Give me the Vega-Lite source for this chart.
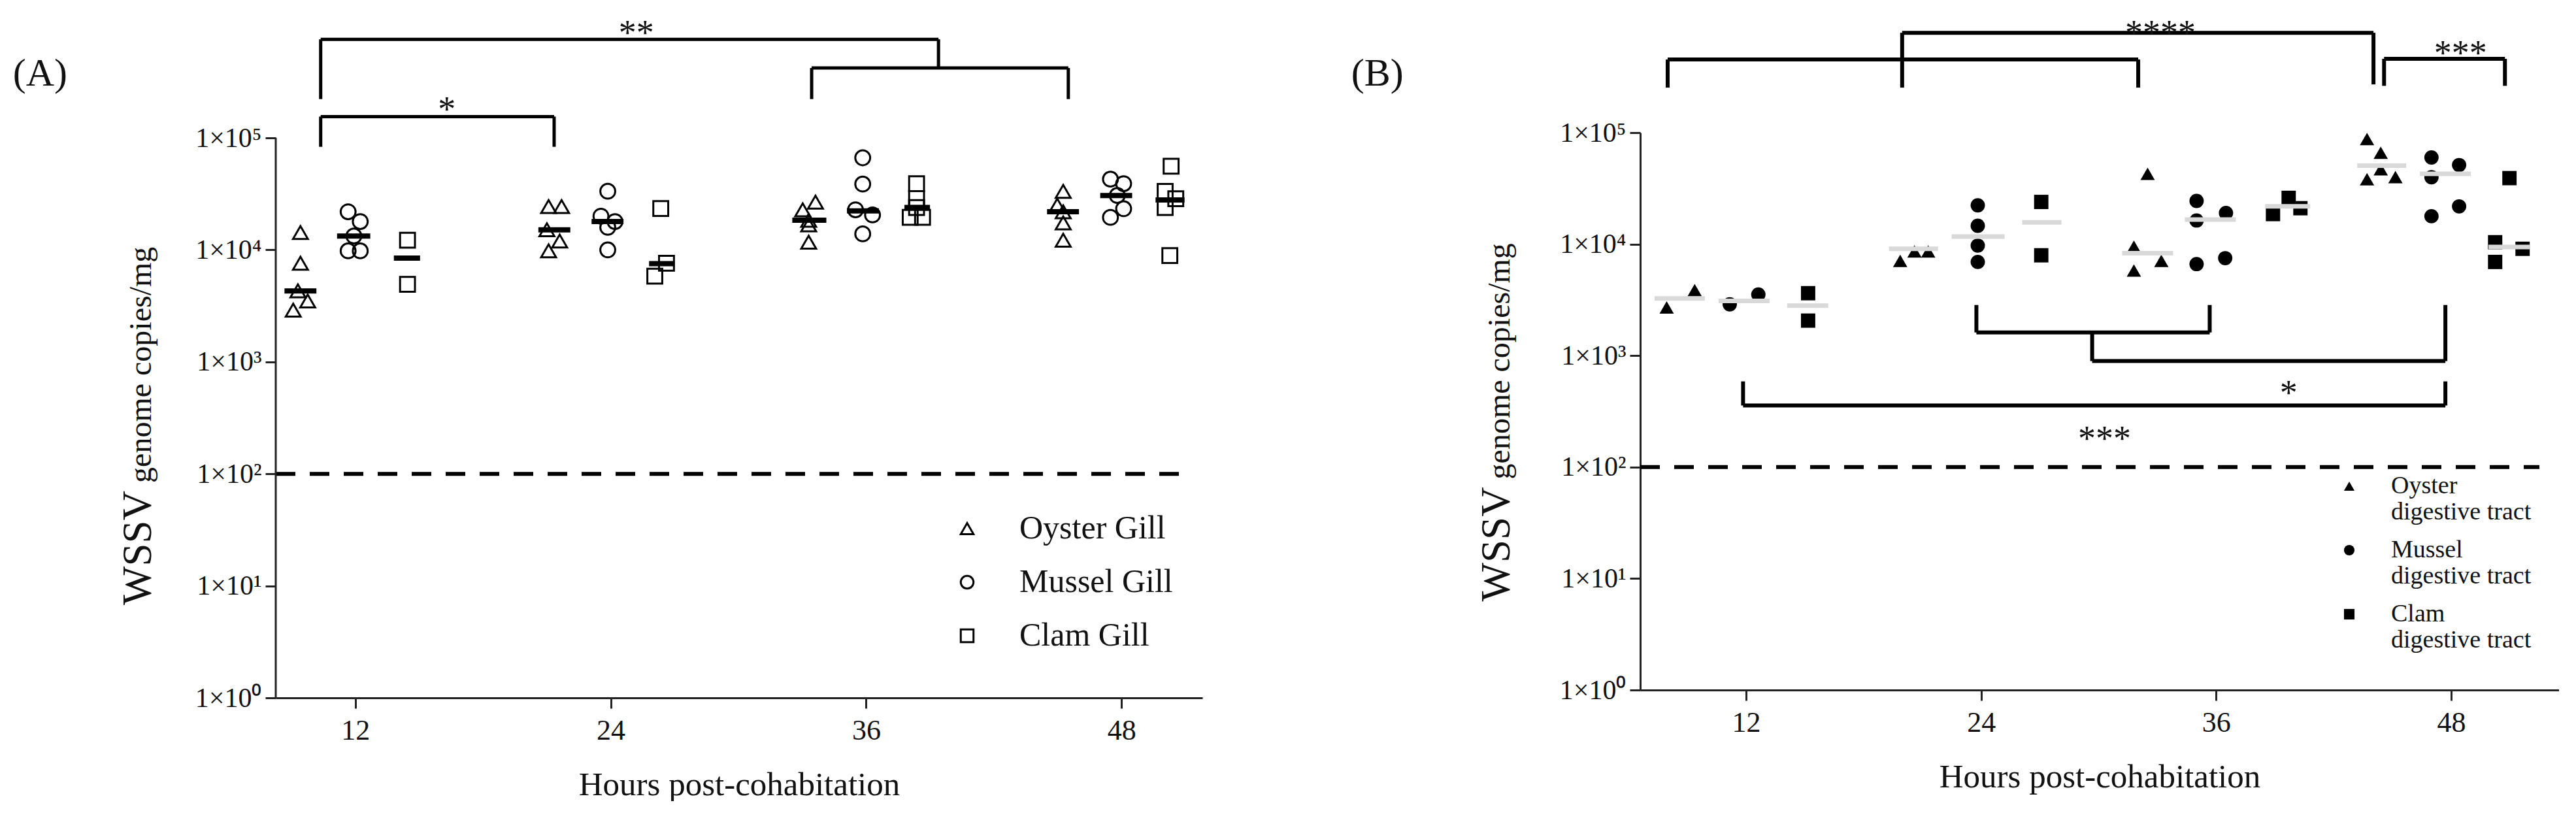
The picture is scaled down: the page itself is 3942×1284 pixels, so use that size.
{
  "$schema": "https://vega.github.io/schema/vega-lite/v6.json",
  "background": "white",
  "padding": {"left": 19, "top": 25, "right": 0, "bottom": 0},
  "spacing": 227,
  "config": {
    "view": {"stroke": null},
    "font": "Liberation Serif",
    "axis": {"labelFont": "Liberation Serif", "titleFont": "Liberation Serif", "labelColor": "#111", "titleColor": "#111", "domainColor": "#222", "tickColor": "#222", "domainWidth": 3, "tickWidth": 3, "tickSize": 16, "grid": false, "titleFontWeight": "normal"},
    "legend": {"labelFont": "Liberation Serif", "labelColor": "#111", "labelLimit": 1000, "padding": 0, "title": null}
  },
  "resolve": {"scale": {"shape": "independent", "x": "independent", "y": "independent"}, "legend": {"shape": "independent"}},
  "datasets": {
    "refA": [{"x1": 8.26, "x2": 50.8, "v": 100}],
    "refB": [{"x1": 6.6, "x2": 52.5, "v": 100}],
    "axA": [{"x": 8.26, "y": 1, "y2": 100000}],
    "ptsA": [
      {"tissue": "Oyster Gill", "h": 9.42, "v": 14300}, {"tissue": "Oyster Gill", "h": 9.42, "v": 7600}, {"tissue": "Oyster Gill", "h": 9.3, "v": 4300}, {"tissue": "Oyster Gill", "h": 9.08, "v": 2900}, {"tissue": "Oyster Gill", "h": 9.76, "v": 3500},
      {"tissue": "Mussel Gill", "h": 11.66, "v": 21900}, {"tissue": "Mussel Gill", "h": 12.23, "v": 17900}, {"tissue": "Mussel Gill", "h": 11.93, "v": 13300}, {"tissue": "Mussel Gill", "h": 11.66, "v": 9800}, {"tissue": "Mussel Gill", "h": 12.23, "v": 9800},
      {"tissue": "Clam Gill", "h": 14.45, "v": 12200}, {"tissue": "Clam Gill", "h": 14.45, "v": 4930},
      {"tissue": "Oyster Gill", "h": 21.08, "v": 24400}, {"tissue": "Oyster Gill", "h": 21.69, "v": 24400}, {"tissue": "Oyster Gill", "h": 21.0, "v": 15100}, {"tissue": "Oyster Gill", "h": 21.6, "v": 12000}, {"tissue": "Oyster Gill", "h": 21.08, "v": 9800},
      {"tissue": "Mussel Gill", "h": 23.86, "v": 33400}, {"tissue": "Mussel Gill", "h": 23.54, "v": 20000}, {"tissue": "Mussel Gill", "h": 24.2, "v": 17900}, {"tissue": "Mussel Gill", "h": 23.86, "v": 15900}, {"tissue": "Mussel Gill", "h": 23.86, "v": 10000},
      {"tissue": "Clam Gill", "h": 26.35, "v": 23400}, {"tissue": "Clam Gill", "h": 26.62, "v": 7600}, {"tissue": "Clam Gill", "h": 26.07, "v": 5820},
      {"tissue": "Oyster Gill", "h": 33.62, "v": 26700}, {"tissue": "Oyster Gill", "h": 33.02, "v": 22800}, {"tissue": "Oyster Gill", "h": 33.3, "v": 18400}, {"tissue": "Oyster Gill", "h": 33.3, "v": 16700}, {"tissue": "Oyster Gill", "h": 33.3, "v": 11700},
      {"tissue": "Mussel Gill", "h": 35.84, "v": 66400}, {"tissue": "Mussel Gill", "h": 35.84, "v": 38700}, {"tissue": "Mussel Gill", "h": 35.5, "v": 22800}, {"tissue": "Mussel Gill", "h": 36.3, "v": 20500}, {"tissue": "Mussel Gill", "h": 35.84, "v": 13900},
      {"tissue": "Clam Gill", "h": 38.37, "v": 39000}, {"tissue": "Clam Gill", "h": 38.37, "v": 28700}, {"tissue": "Clam Gill", "h": 38.37, "v": 23900}, {"tissue": "Clam Gill", "h": 38.07, "v": 19500}, {"tissue": "Clam Gill", "h": 38.65, "v": 19500},
      {"tissue": "Oyster Gill", "h": 45.26, "v": 33300}, {"tissue": "Oyster Gill", "h": 44.98, "v": 25100}, {"tissue": "Oyster Gill", "h": 45.26, "v": 21900}, {"tissue": "Oyster Gill", "h": 45.26, "v": 17400}, {"tissue": "Oyster Gill", "h": 45.26, "v": 12200},
      {"tissue": "Mussel Gill", "h": 47.48, "v": 42800}, {"tissue": "Mussel Gill", "h": 48.1, "v": 39000}, {"tissue": "Mussel Gill", "h": 47.8, "v": 30600}, {"tissue": "Mussel Gill", "h": 48.1, "v": 23300}, {"tissue": "Mussel Gill", "h": 47.48, "v": 19500},
      {"tissue": "Clam Gill", "h": 50.33, "v": 55800}, {"tissue": "Clam Gill", "h": 50.05, "v": 33300}, {"tissue": "Clam Gill", "h": 50.55, "v": 28600}, {"tissue": "Clam Gill", "h": 50.05, "v": 23900}, {"tissue": "Clam Gill", "h": 50.27, "v": 8900}
    ],
    "medA": [
      {"x1": 8.67, "x2": 10.17, "v": 4300}, {"x1": 11.14, "x2": 12.7, "v": 13300}, {"x1": 13.81, "x2": 15.04, "v": 8430},
      {"x1": 20.6, "x2": 22.1, "v": 15100}, {"x1": 23.1, "x2": 24.6, "v": 17900}, {"x1": 25.8, "x2": 27.0, "v": 7520},
      {"x1": 32.53, "x2": 34.13, "v": 18400}, {"x1": 35.1, "x2": 36.6, "v": 22300}, {"x1": 37.8, "x2": 39.0, "v": 23900},
      {"x1": 44.5, "x2": 46.0, "v": 21900}, {"x1": 47.0, "x2": 48.5, "v": 30600}, {"x1": 49.6, "x2": 50.96, "v": 27900}
    ],
    "segA": [
      {"x": 10.37, "x2": 39.4, "y": 758600, "y2": 758600},
      {"x": 10.37, "x2": 10.37, "y": 758600, "y2": 222000},
      {"x": 39.4, "x2": 39.4, "y": 758600, "y2": 420700},
      {"x": 33.44, "x2": 45.5, "y": 420700, "y2": 420700},
      {"x": 33.44, "x2": 33.44, "y": 420700, "y2": 222000},
      {"x": 45.5, "x2": 45.5, "y": 420700, "y2": 222000},
      {"x": 10.37, "x2": 21.34, "y": 154900, "y2": 154900},
      {"x": 10.37, "x2": 10.37, "y": 154900, "y2": 83200},
      {"x": 21.34, "x2": 21.34, "y": 154900, "y2": 83200}
    ],
    "txtA": [{"t": "**", "x": 25.2, "y": 682000}, {"t": "*", "x": 16.3, "y": 141800}],
    "labA": [{"t": "(A)", "x": -4.09, "y": 293000}],
    "ytA1": [{"t": "WSSV", "x": 2.39, "y": 70.8}],
    "ytA2": [{"t": "genome copies/mg", "x": 2.39, "y": 83.2}],
    "ptsB": [
      {"tissue": "Oyster digestive tract", "h": 7.95, "v": 2700}, {"tissue": "Oyster digestive tract", "h": 9.38, "v": 3870},
      {"tissue": "Mussel digestive tract", "h": 11.17, "v": 2880}, {"tissue": "Mussel digestive tract", "h": 12.63, "v": 3530},
      {"tissue": "Clam digestive tract", "h": 15.17, "v": 3630}, {"tissue": "Clam digestive tract", "h": 15.17, "v": 2060},
      {"tissue": "Oyster digestive tract", "h": 19.87, "v": 7070}, {"tissue": "Oyster digestive tract", "h": 20.6, "v": 8600}, {"tissue": "Oyster digestive tract", "h": 21.3, "v": 8600},
      {"tissue": "Mussel digestive tract", "h": 23.83, "v": 22300}, {"tissue": "Mussel digestive tract", "h": 23.83, "v": 14600}, {"tissue": "Mussel digestive tract", "h": 23.83, "v": 9700}, {"tissue": "Mussel digestive tract", "h": 23.83, "v": 6920},
      {"tissue": "Clam digestive tract", "h": 27.07, "v": 23900}, {"tissue": "Clam digestive tract", "h": 27.07, "v": 7940},
      {"tissue": "Oyster digestive tract", "h": 32.5, "v": 42700}, {"tissue": "Oyster digestive tract", "h": 31.8, "v": 9480}, {"tissue": "Oyster digestive tract", "h": 33.2, "v": 7080}, {"tissue": "Oyster digestive tract", "h": 31.8, "v": 5800},
      {"tissue": "Mussel digestive tract", "h": 35.0, "v": 24400}, {"tissue": "Mussel digestive tract", "h": 36.5, "v": 19000}, {"tissue": "Mussel digestive tract", "h": 35.0, "v": 16300}, {"tissue": "Mussel digestive tract", "h": 36.46, "v": 7480}, {"tissue": "Mussel digestive tract", "h": 35.0, "v": 6620},
      {"tissue": "Clam digestive tract", "h": 39.7, "v": 26000}, {"tissue": "Clam digestive tract", "h": 38.9, "v": 18600}, {"tissue": "Clam digestive tract", "h": 40.3, "v": 21000},
      {"tissue": "Oyster digestive tract", "h": 43.7, "v": 87700}, {"tissue": "Oyster digestive tract", "h": 44.4, "v": 66000}, {"tissue": "Oyster digestive tract", "h": 44.4, "v": 47000}, {"tissue": "Oyster digestive tract", "h": 45.15, "v": 40000}, {"tissue": "Oyster digestive tract", "h": 43.7, "v": 38200},
      {"tissue": "Mussel digestive tract", "h": 46.99, "v": 59900}, {"tissue": "Mussel digestive tract", "h": 48.4, "v": 51200}, {"tissue": "Mussel digestive tract", "h": 46.99, "v": 39800}, {"tissue": "Mussel digestive tract", "h": 48.4, "v": 21800}, {"tissue": "Mussel digestive tract", "h": 46.99, "v": 17800},
      {"tissue": "Clam digestive tract", "h": 50.97, "v": 39100}, {"tissue": "Clam digestive tract", "h": 50.24, "v": 10400}, {"tissue": "Clam digestive tract", "h": 51.64, "v": 9080}, {"tissue": "Clam digestive tract", "h": 50.24, "v": 6920}
    ],
    "medB": [
      {"x1": 7.33, "x2": 9.9, "v": 3260}, {"x1": 10.6, "x2": 13.2, "v": 3090}, {"x1": 14.1, "x2": 16.2, "v": 2810},
      {"x1": 19.3, "x2": 21.8, "v": 9070}, {"x1": 22.5, "x2": 25.2, "v": 11700}, {"x1": 26.1, "x2": 28.1, "v": 15700},
      {"x1": 31.2, "x2": 33.8, "v": 8300}, {"x1": 34.4, "x2": 37.0, "v": 16600}, {"x1": 38.5, "x2": 40.8, "v": 21800},
      {"x1": 43.2, "x2": 45.7, "v": 50500}, {"x1": 46.4, "x2": 49.0, "v": 42800}, {"x1": 49.9, "x2": 52.0, "v": 9420}
    ],
    "segB": [
      {"x": 8.0, "x2": 32.02, "y": 452900, "y2": 452900},
      {"x": 8.0, "x2": 8.0, "y": 452900, "y2": 253500},
      {"x": 32.02, "x2": 32.02, "y": 452900, "y2": 253500},
      {"x": 19.97, "x2": 44.03, "y": 787000, "y2": 787000},
      {"x": 19.97, "x2": 19.97, "y": 787000, "y2": 253500},
      {"x": 44.03, "x2": 44.03, "y": 787000, "y2": 271000},
      {"x": 44.57, "x2": 50.74, "y": 459200, "y2": 459200},
      {"x": 44.57, "x2": 44.57, "y": 459200, "y2": 263000},
      {"x": 50.74, "x2": 50.74, "y": 459200, "y2": 263000},
      {"x": 23.76, "x2": 23.76, "y": 2844, "y2": 1614},
      {"x": 35.67, "x2": 35.67, "y": 2844, "y2": 1614},
      {"x": 23.76, "x2": 35.67, "y": 1614, "y2": 1614},
      {"x": 29.67, "x2": 29.67, "y": 1614, "y2": 893},
      {"x": 29.67, "x2": 47.7, "y": 893, "y2": 893},
      {"x": 47.7, "x2": 47.7, "y": 893, "y2": 2844},
      {"x": 11.85, "x2": 11.85, "y": 587, "y2": 357},
      {"x": 11.85, "x2": 47.7, "y": 357, "y2": 357},
      {"x": 47.7, "x2": 47.7, "y": 357, "y2": 587}
    ],
    "txtB": [{"t": "****", "x": 33.15, "y": 616000}, {"t": "***", "x": 48.47, "y": 406700}, {"t": "*", "x": 39.7, "y": 362}, {"t": "***", "x": 30.3, "y": 141}],
    "labB": [{"t": "(B)", "x": -8.15, "y": 264000}],
    "ytB1": [{"t": "WSSV", "x": -0.08, "y": 66.2}],
    "ytB2": [{"t": "genome copies/mg", "x": -0.08, "y": 77.8}]
  },
  "hconcat": [
    {
      "width": 1418,
      "height": 865,
      "layer": [
        {
          "data": {"name": "refA"},
          "mark": {"type": "rule", "strokeDash": [30, 22], "strokeWidth": 6, "color": "black"},
          "encoding": {
            "x": {"field": "x1", "type": "quantitative", "scale": {"domain": [8.26, 51.8], "nice": false, "zero": false},
              "axis": {"values": [12, 24, 36, 48], "title": "Hours post-cohabitation", "labelFontSize": 44, "titleFontSize": 51, "labelPadding": 12, "titlePadding": 36, "labelFlush": false}},
            "x2": {"field": "x2"},
            "y": {"field": "v", "type": "quantitative", "scale": {"type": "log", "domain": [1, 111350], "nice": false},
              "axis": {"values": [1, 10, 100, 1000, 10000, 100000], "domain": false, "labelExpr": "'1×10' + ['⁰','¹','²','³','⁴','⁵'][round(log(datum.value)/LN10)]", "title": null, "labelFontSize": 42, "labelPadding": 6}}
          }
        },
        {
          "data": {"name": "axA"},
          "mark": {"type": "rule", "strokeWidth": 3, "color": "#222"},
          "encoding": {
            "x": {"field": "x", "type": "quantitative", "scale": {"domain": [8.26, 51.8], "nice": false, "zero": false}},
            "y": {"field": "y", "type": "quantitative", "scale": {"type": "log", "domain": [1, 111350], "nice": false}},
            "y2": {"field": "y2"}
          }
        },
        {
          "data": {"name": "ptsA"},
          "mark": {"type": "point", "filled": false, "strokeWidth": 3, "size": 520, "color": "black", "opacity": 1},
          "encoding": {
            "x": {"field": "h", "type": "quantitative", "scale": {"domain": [8.26, 51.8], "nice": false, "zero": false}},
            "y": {"field": "v", "type": "quantitative", "scale": {"type": "log", "domain": [1, 111350], "nice": false}},
            "shape": {"field": "tissue", "type": "nominal",
              "scale": {"domain": ["Oyster Gill", "Mussel Gill", "Clam Gill"], "range": ["triangle-up", "circle", "square"]},
              "legend": {"orient": "none", "legendX": 1033, "legendY": 581, "title": null, "labelFontSize": 50, "symbolSize": 380, "symbolStrokeWidth": 3, "rowPadding": 32, "labelOffset": 55}}
          }
        },
        {
          "data": {"name": "medA"},
          "mark": {"type": "rule", "strokeWidth": 8, "color": "black"},
          "encoding": {
            "x": {"field": "x1", "type": "quantitative", "scale": {"domain": [8.26, 51.8], "nice": false, "zero": false}},
            "x2": {"field": "x2"},
            "y": {"field": "v", "type": "quantitative", "scale": {"type": "log", "domain": [1, 111350], "nice": false}}
          }
        },
        {
          "data": {"name": "segA"},
          "mark": {"type": "rule", "strokeWidth": 5, "color": "black", "clip": false},
          "encoding": {
            "x": {"field": "x", "type": "quantitative", "scale": {"domain": [8.26, 51.8], "nice": false, "zero": false}},
            "x2": {"field": "x2"},
            "y": {"field": "y", "type": "quantitative", "scale": {"type": "log", "domain": [1, 111350], "nice": false}},
            "y2": {"field": "y2"}
          }
        },
        {
          "data": {"name": "txtA"},
          "mark": {"type": "text", "fontSize": 54, "font": "Liberation Serif", "color": "#111", "align": "center", "baseline": "alphabetic", "clip": false},
          "encoding": {
            "x": {"field": "x", "type": "quantitative", "scale": {"domain": [8.26, 51.8], "nice": false, "zero": false}},
            "y": {"field": "y", "type": "quantitative", "scale": {"type": "log", "domain": [1, 111350], "nice": false}},
            "text": {"field": "t"}
          }
        },
        {
          "data": {"name": "labA"},
          "mark": {"type": "text", "fontSize": 60, "font": "Liberation Serif", "color": "#111", "align": "left", "baseline": "alphabetic", "clip": false},
          "encoding": {
            "x": {"field": "x", "type": "quantitative", "scale": {"domain": [8.26, 51.8], "nice": false, "zero": false}},
            "y": {"field": "y", "type": "quantitative", "scale": {"type": "log", "domain": [1, 111350], "nice": false}},
            "text": {"field": "t"}
          }
        },
        {
          "data": {"name": "ytA1"},
          "mark": {"type": "text", "fontSize": 63, "font": "Liberation Serif", "color": "#111", "align": "right", "baseline": "alphabetic", "angle": 270, "clip": false},
          "encoding": {
            "x": {"field": "x", "type": "quantitative", "scale": {"domain": [8.26, 51.8], "nice": false, "zero": false}},
            "y": {"field": "y", "type": "quantitative", "scale": {"type": "log", "domain": [1, 111350], "nice": false}},
            "text": {"field": "t"}
          }
        },
        {
          "data": {"name": "ytA2"},
          "mark": {"type": "text", "fontSize": 48, "font": "Liberation Serif", "color": "#111", "align": "left", "baseline": "alphabetic", "angle": 270, "clip": false},
          "encoding": {
            "x": {"field": "x", "type": "quantitative", "scale": {"domain": [8.26, 51.8], "nice": false, "zero": false}},
            "y": {"field": "y", "type": "quantitative", "scale": {"type": "log", "domain": [1, 111350], "nice": false}},
            "text": {"field": "t"}
          }
        }
      ]
    },
    {
      "width": 1406,
      "height": 853,
      "layer": [
        {
          "data": {"name": "refB"},
          "mark": {"type": "rule", "strokeDash": [30, 22], "strokeWidth": 6, "color": "black"},
          "encoding": {
            "x": {"field": "x1", "type": "quantitative", "scale": {"domain": [6.6, 53.5], "nice": false, "zero": false},
              "axis": {"values": [12, 24, 36, 48], "title": "Hours post-cohabitation", "labelFontSize": 44, "titleFontSize": 51, "labelPadding": 12, "titlePadding": 36, "labelFlush": false}},
            "x2": {"field": "x2"},
            "y": {"field": "v", "type": "quantitative", "scale": {"type": "log", "domain": [1, 100000], "nice": false},
              "axis": {"values": [1, 10, 100, 1000, 10000, 100000], "labelExpr": "'1×10' + ['⁰','¹','²','³','⁴','⁵'][round(log(datum.value)/LN10)]", "title": null, "labelFontSize": 42, "labelPadding": 6}}
          }
        },
        {
          "data": {"name": "ptsB"},
          "mark": {"type": "point", "filled": true, "size": 480, "color": "black", "opacity": 1},
          "encoding": {
            "x": {"field": "h", "type": "quantitative", "scale": {"domain": [6.6, 53.5], "nice": false, "zero": false}},
            "y": {"field": "v", "type": "quantitative", "scale": {"type": "log", "domain": [1, 100000], "nice": false}},
            "shape": {"field": "tissue", "type": "nominal",
              "scale": {"domain": ["Oyster digestive tract", "Mussel digestive tract", "Clam digestive tract"], "range": ["triangle-up", "circle", "square"]},
              "legend": {"orient": "none", "legendX": 1066, "legendY": 522, "title": null, "labelFontSize": 38, "symbolSize": 260, "rowPadding": 20, "labelOffset": 45,
                "labelExpr": "[substring(datum.label, 0, indexof(datum.label, ' ')), substring(datum.label, indexof(datum.label, ' ') + 1)]"}}
          }
        },
        {
          "data": {"name": "medB"},
          "mark": {"type": "rule", "strokeWidth": 7, "color": "#d9d9d9"},
          "encoding": {
            "x": {"field": "x1", "type": "quantitative", "scale": {"domain": [6.6, 53.5], "nice": false, "zero": false}},
            "x2": {"field": "x2"},
            "y": {"field": "v", "type": "quantitative", "scale": {"type": "log", "domain": [1, 100000], "nice": false}}
          }
        },
        {
          "data": {"name": "segB"},
          "mark": {"type": "rule", "strokeWidth": 6, "color": "black", "clip": false},
          "encoding": {
            "x": {"field": "x", "type": "quantitative", "scale": {"domain": [6.6, 53.5], "nice": false, "zero": false}},
            "x2": {"field": "x2"},
            "y": {"field": "y", "type": "quantitative", "scale": {"type": "log", "domain": [1, 100000], "nice": false}},
            "y2": {"field": "y2"}
          }
        },
        {
          "data": {"name": "txtB"},
          "mark": {"type": "text", "fontSize": 54, "font": "Liberation Serif", "color": "#111", "align": "center", "baseline": "alphabetic", "clip": false},
          "encoding": {
            "x": {"field": "x", "type": "quantitative", "scale": {"domain": [6.6, 53.5], "nice": false, "zero": false}},
            "y": {"field": "y", "type": "quantitative", "scale": {"type": "log", "domain": [1, 100000], "nice": false}},
            "text": {"field": "t"}
          }
        },
        {
          "data": {"name": "labB"},
          "mark": {"type": "text", "fontSize": 60, "font": "Liberation Serif", "color": "#111", "align": "left", "baseline": "alphabetic", "clip": false},
          "encoding": {
            "x": {"field": "x", "type": "quantitative", "scale": {"domain": [6.6, 53.5], "nice": false, "zero": false}},
            "y": {"field": "y", "type": "quantitative", "scale": {"type": "log", "domain": [1, 100000], "nice": false}},
            "text": {"field": "t"}
          }
        },
        {
          "data": {"name": "ytB1"},
          "mark": {"type": "text", "fontSize": 63, "font": "Liberation Serif", "color": "#111", "align": "right", "baseline": "alphabetic", "angle": 270, "clip": false},
          "encoding": {
            "x": {"field": "x", "type": "quantitative", "scale": {"domain": [6.6, 53.5], "nice": false, "zero": false}},
            "y": {"field": "y", "type": "quantitative", "scale": {"type": "log", "domain": [1, 100000], "nice": false}},
            "text": {"field": "t"}
          }
        },
        {
          "data": {"name": "ytB2"},
          "mark": {"type": "text", "fontSize": 48, "font": "Liberation Serif", "color": "#111", "align": "left", "baseline": "alphabetic", "angle": 270, "clip": false},
          "encoding": {
            "x": {"field": "x", "type": "quantitative", "scale": {"domain": [6.6, 53.5], "nice": false, "zero": false}},
            "y": {"field": "y", "type": "quantitative", "scale": {"type": "log", "domain": [1, 100000], "nice": false}},
            "text": {"field": "t"}
          }
        }
      ]
    }
  ]
}
